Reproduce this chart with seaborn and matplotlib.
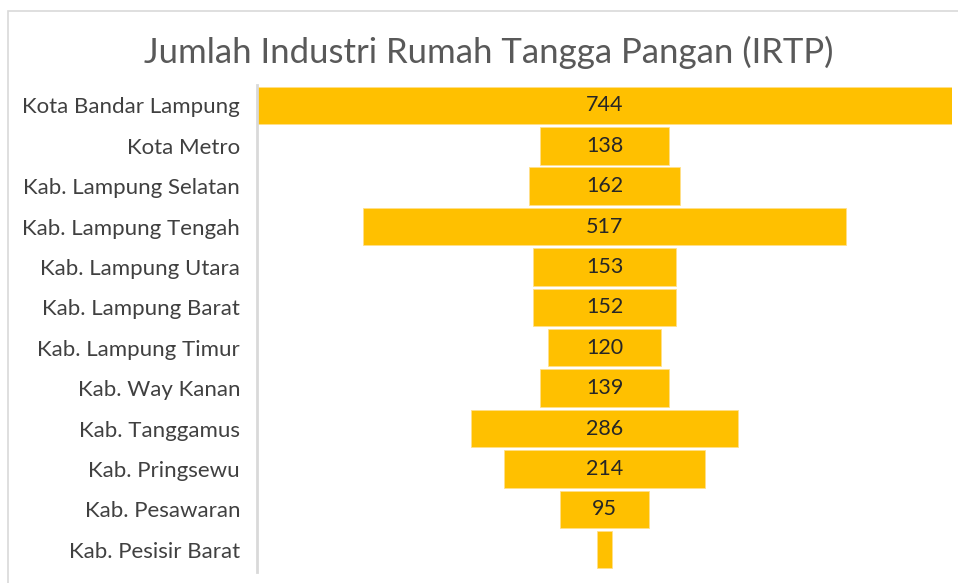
import numpy as np
import pandas as pd
import matplotlib.pyplot as plt
import seaborn as sns
from matplotlib.patches import Rectangle

# data
regions = [
    "Kota Bandar Lampung", "Kota Metro", "Kab. Lampung Selatan",
    "Kab. Lampung Tengah", "Kab. Lampung Utara", "Kab. Lampung Barat",
    "Kab. Lampung Timur", "Kab. Way Kanan", "Kab. Tanggamus",
    "Kab. Pringsewu", "Kab. Pesawaran", "Kab. Pesisir Barat",
]
irtp = [744, 138, 162, 517, 153, 152, 120, 139, 286, 214, 95, 16]
show_label = [True] * 11 + [False]

df = pd.DataFrame({"region": regions, "irtp": irtp})

sns.set_theme(style="white")
plt.rcParams['font.family'] = ['Lato', 'DejaVu Sans']

fig = plt.figure(figsize=(9.58, 5.83), dpi=100)
ax = fig.add_axes([0.268, 0.019, 0.726, 0.835])

sns.barplot(data=df, x="irtp", y="region", color="#FFC000", saturation=1,
            width=0.93, edgecolor="#FFE08A", linewidth=0.6, ax=ax)

# center every bar to make the funnel shape
for p in ax.patches:
    p.set_x(-p.get_width() / 2)

for i, (v, show) in enumerate(zip(irtp, show_label)):
    if show:
        ax.text(0, i, str(v), ha="center", va="center", fontsize=15.5, color="#262626")

half = max(irtp) / 2
ax.set_xlim(-half, half)
ax.set_ylim(len(regions) - 0.45, -0.5)
ax.set_xticks([])
ax.set_xlabel("")
ax.set_ylabel("")
ax.tick_params(axis="y", length=0, pad=12, labelsize=16, labelcolor="#404040")

for s in ["top", "right", "bottom"]:
    ax.spines[s].set_visible(False)
ax.spines["left"].set_color("#D9D9D9")
ax.spines["left"].set_linewidth(2)

fig.text(0.51, 0.91, "Jumlah Industri Rumah Tangga Pangan (IRTP)",
         ha="center", va="center", fontsize=25, color="#595959")

# chart frame, only top and left edges fall inside the image
fig.patches.append(Rectangle((8 / 958, -0.1), 1.2, 1.1 - 11 / 583, transform=fig.transFigure,
                             fill=False, edgecolor="#D9D9D9", linewidth=1.2))

plt.savefig("out.png", dpi=100)
